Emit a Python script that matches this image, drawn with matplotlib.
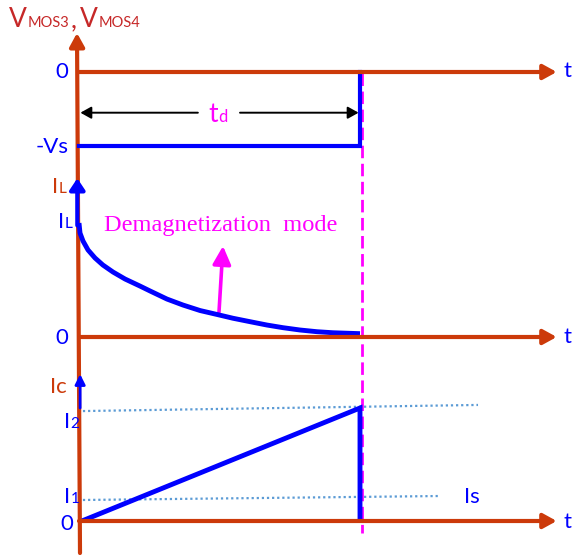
import matplotlib
matplotlib.use("Agg")
import matplotlib.pyplot as plt

# waveform data (time in units of t_d, levels in units of each panel's reference)
t_d = 1.0
t_end = 1.70

vmos_t = [0.0, t_d, t_d]
vmos_v = [-1.0, -1.0, 0.0]          # -Vs then back to 0

il_t = [0.0, 0.0036, 0.0142, 0.032, 0.057, 0.085, 0.121, 0.164, 0.217, 0.253, 0.313, 0.370,
        0.431, 0.491, 0.548, 0.609, 0.669, 0.726, 0.786, 0.847, 0.904, 0.964, 1.0]
il_v = [0.991, 0.904, 0.835, 0.757, 0.687, 0.626, 0.565, 0.504, 0.443, 0.400, 0.330, 0.278,
        0.230, 0.196, 0.163, 0.133, 0.104, 0.081, 0.061, 0.046, 0.037, 0.032, 0.029]

ic_t = [0.02, t_d, t_d]
ic_v = [0.01, 1.0, 0.035]

i2_t = [0.014, 1.42]
i2_v = [0.973, 1.027]
is_t = [0.014, 1.28]
is_v = [0.186, 0.221]

RED = "#CC3A0A"
DRED = "#C62828"
BLUE = "#0000FF"
MAG = "#FF00FF"
DOT = "#5B9BD5"
SANS = ["Lato", "DejaVu Sans"]

W, H = 573, 556
X0, TPX = 79, 281

fig = plt.figure(figsize=(W / 100, H / 100), dpi=100)

# pixel-space layer for the frame and labels
lay = fig.add_axes([0, 0, 1, 1])
lay.set_xlim(0, W)
lay.set_ylim(H, 0)
lay.axis("off")


def panel(zero_px, unit_px):
    ax = fig.add_axes([0, 0, 1, 1])
    ax.set_xlim(-X0 / TPX, (W - X0) / TPX)
    ax.set_ylim((zero_px - H) / unit_px, zero_px / unit_px)
    ax.axis("off")
    ax.patch.set_alpha(0)
    return ax


def arrow(ax, start, tip, color, lw, hl, hw, ms):
    ax.annotate("", xy=tip, xytext=start,
                arrowprops=dict(arrowstyle=f"-|>,head_length={hl},head_width={hw}",
                                color=color, lw=lw, mutation_scale=ms,
                                shrinkA=0, shrinkB=0))


p1 = panel(72, 74)
p2 = panel(337, 115)
p3 = panel(521, 113)

# time axes
for ax in (p1, p2, p3):
    arrow(ax, (0, 0), (t_end, 0), RED, 3, 0.4, 0.22, 20)

# shared vertical axis
arrow(lay, (80, 553), (77, 33), RED, 3, 0.4, 0.22, 20)

# V_MOS3, V_MOS4
p1.plot(vmos_t, vmos_v, color=BLUE, lw=3, solid_joinstyle="miter")
arrow(p1, (0.423, -0.55), (0.005, -0.55), "black", 1.4, 0.43, 0.24, 15)
arrow(p1, (0.573, -0.55), (t_d - 0.005, -0.55), "black", 1.4, 0.43, 0.24, 15)

# I_L
p2.plot(il_t, il_v, color=BLUE, lw=3.5, solid_capstyle="butt", solid_joinstyle="round")
arrow(p2, (-0.006, 0.97), (-0.006, 1.38), BLUE, 3, 0.45, 0.3, 15)
lay.text(221, 226, "Demagnetization  mode", color=MAG, fontsize=17.6,
         family="Liberation Serif", ha="center", va="center")
arrow(lay, (219, 312), (223, 246), MAG, 2.6, 0.5, 0.25, 22)

# I_C
p3.plot(i2_t, i2_v, color=DOT, lw=1.6, ls=(0, (1, 1.3)))
p3.plot(is_t, is_v, color=DOT, lw=1.6, ls=(0, (1, 1.3)))
p3.plot(ic_t, ic_v, color=BLUE, lw=3.5, solid_joinstyle="miter")
arrow(p3, (0.004, 1.0), (0.004, 1.3), BLUE, 2, 0.5, 0.25, 12)

# end of demagnetization
lay.plot([362, 362], [73, 533], color=MAG, lw=2, ls=(0, (4.5, 2)))

# labels
def lbl(x, y, s, color=BLUE, size=16, ha="center"):
    lay.text(x, y, s, color=color, fontsize=size, family=SANS, ha=ha, va="baseline")

for y in (78, 344):
    lbl(62, y, "0")
lbl(67, 530, "0")
lbl(52, 153, "-Vs")
for y in (77, 343, 528):
    lbl(567, y, "t")
lbl(472, 503, "Is")

# text with small trailing part on the same baseline
def pair(x, y, big, small, color, bsize=16, ssize=11):
    t = lay.text(x, y, big, color=color, fontsize=bsize, family=SANS, ha="left", va="baseline")
    fig.canvas.draw()
    bb = t.get_window_extent()
    inv = lay.transData.inverted()
    xe = inv.transform((bb.x1, bb.y0))[0]
    t2 = lay.text(xe + 0.5, y, small, color=color, fontsize=ssize, family=SANS, ha="left", va="baseline")
    fig.canvas.draw()
    return inv.transform((t2.get_window_extent().x1, 0))[0]

xe = pair(9, 27, "V", "MOS3", DRED, 19, 10.5)
lay.text(xe + 1.5, 27, ",", color=DRED, fontsize=19, family=SANS, ha="left", va="baseline")
pair(xe + 11, 27, "V", "MOS4", DRED, 19, 10.5)
pair(52, 193, "I", "L", RED)
pair(58, 228, "I", "L", BLUE)
pair(50, 393, "Ic", "", RED)
pair(64, 428, "I", "2", BLUE)
pair(64, 503, "I", "1", BLUE)
pair(208, 122, "t", "d", MAG, 19, 12)

fig.savefig("out.png", dpi=100)
